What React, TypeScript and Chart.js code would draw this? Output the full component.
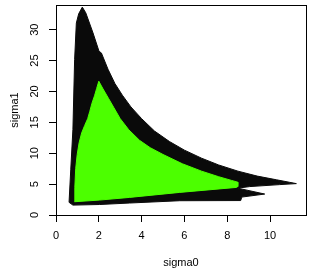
import React, { useEffect, useRef } from 'react';
import { Chart, registerables } from 'chart.js';

Chart.register(...registerables);

// Outer (black) region boundary
const blackX = [1.23, 1.39, 1.73, 2.01, 2.12, 2.43, 2.75, 3.1, 3.5, 4.0, 4.6, 5.3, 6.0, 6.8, 7.6, 8.5, 9.4, 10.3, 10.9, 11.23, 10.45, 9.05, 8.49, 9.75, 8.68, 8.63, 5.78, 3.44, 2.04, 0.79, 0.61, 0.69, 0.79, 0.87, 0.95, 1.06, 1.23];
const blackY = [33.66, 32.74, 29.47, 26.5, 26.24, 23.6, 21.3, 19.4, 17.5, 15.6, 13.6, 11.9, 10.5, 9.2, 8.1, 7.1, 6.3, 5.7, 5.3, 5.08, 4.92, 4.6, 4.35, 3.39, 2.9, 2.34, 2.31, 1.94, 1.7, 1.6, 2.05, 7.42, 13.87, 25.16, 31.08, 32.58, 33.66];

// Inner (green) region boundary
const greenX = [2.0, 2.2, 2.45, 2.7, 3.0, 3.4, 3.9, 4.4, 5.0, 5.9, 6.8, 7.6, 8.2, 8.5, 8.49, 8.43, 5.78, 3.44, 2.04, 0.87, 0.88, 0.92, 0.99, 1.08, 1.2, 1.34, 1.48, 1.58, 1.68, 1.8, 1.9, 2.0];
const greenY = [21.66, 20.4, 18.9, 17.4, 15.6, 13.8, 12.1, 10.9, 9.8, 8.3, 7.1, 6.2, 5.6, 5.3, 4.6, 4.47, 3.66, 2.85, 2.42, 2.15, 4.5, 7.5, 9.8, 11.7, 13.3, 14.5, 15.6, 16.8, 18.1, 19.3, 20.5, 21.66];

const xTicks = [0, 2, 4, 6, 8, 10];
const yTicks = [0, 5, 10, 15, 20, 25, 30];
const xTitle = 'sigma0';
const yTitle = 'sigma1';

const FONT = "'Liberation Sans', Arial, Helvetica, sans-serif";

const boxPlugin = {
  id: 'plotBox',
  afterDraw(chart: any) {
    const { ctx, chartArea: a } = chart;
    ctx.save();
    ctx.strokeStyle = '#000';
    ctx.lineWidth = 1;
    const l = Math.round(a.left) + 0.5;
    const t = Math.round(a.top) + 0.5;
    const r = Math.round(a.right) + 0.5;
    const b = Math.round(a.bottom) + 0.5;
    ctx.strokeRect(l, t, r - l, b - t);
    ctx.restore();
  },
};

export default function App() {
  const ref = useRef<HTMLCanvasElement | null>(null);

  useEffect(() => {
    if (!ref.current) return;
    const toPts = (xs: number[], ys: number[]) => xs.map((x, i) => ({ x, y: ys[i] }));
    const chart = new Chart(ref.current, {
      type: 'scatter',
      data: {
        datasets: [
          {
            data: toPts(greenX, greenY),
            showLine: true,
            fill: 'shape',
            backgroundColor: '#4cff00',
            borderColor: '#4cff00',
            borderWidth: 1,
            pointRadius: 0,
            tension: 0,
          },
          {
            data: toPts(blackX, blackY),
            showLine: true,
            fill: 'shape',
            backgroundColor: '#0a0a0a',
            borderColor: '#0a0a0a',
            borderWidth: 1,
            pointRadius: 0,
            tension: 0,
          },
        ],
      },
      options: {
        responsive: false,
        animation: false,
        devicePixelRatio: 1,
        layout: { padding: { left: 0, right: 5, top: 5, bottom: 0 } },
        plugins: {
          legend: { display: false },
          tooltip: { enabled: false },
        },
        scales: {
          x: {
            type: 'linear',
            min: 0,
            max: 11.68,
            afterBuildTicks: (s: any) => {
              s.ticks = xTicks.map((v) => ({ value: v }));
            },
            afterFit: (s: any) => {
              s.height = 57;
              s.paddingLeft = 0;
              s.paddingRight = 0;
            },
            ticks: {
              autoSkip: false,
              includeBounds: false,
              maxRotation: 0,
              minRotation: 0,
              padding: 7,
              color: '#000',
              font: { family: FONT, size: 11 },
            },
            grid: {
              drawOnChartArea: false,
              drawTicks: true,
              tickLength: 7,
              color: '#000',
              lineWidth: 1,
            },
            border: { display: true, color: '#000', width: 1 },
            title: {
              display: true,
              text: xTitle,
              color: '#000',
              font: { family: FONT, size: 11 },
              padding: { top: 0, bottom: 2 },
            },
          },
          y: {
            type: 'linear',
            min: 0,
            max: 34,
            afterBuildTicks: (s: any) => {
              s.ticks = yTicks.map((v) => ({ value: v }));
            },
            afterFit: (s: any) => {
              s.width = 56;
              s.paddingTop = 0;
              s.paddingBottom = 0;
            },
            ticks: {
              autoSkip: false,
              includeBounds: false,
              minRotation: 90,
              maxRotation: 90,
              crossAlign: 'center',
              padding: 8,
              color: '#000',
              font: { family: FONT, size: 11 },
            },
            grid: {
              drawOnChartArea: false,
              drawTicks: true,
              tickLength: 7,
              color: '#000',
              lineWidth: 1,
            },
            border: { display: true, color: '#000', width: 1 },
            title: {
              display: true,
              text: yTitle,
              color: '#000',
              font: { family: FONT, size: 11 },
              padding: { top: 8, bottom: 0 },
            },
          },
        },
      } as any,
      plugins: [boxPlugin],
    });
    return () => chart.destroy();
  }, []);

  return (
    <div style={{ position: 'absolute', left: 0, top: 0, width: 311, height: 272 }}>
      <canvas ref={ref} width={311} height={272} style={{ display: 'block', width: 311, height: 272 }} />
    </div>
  );
}
